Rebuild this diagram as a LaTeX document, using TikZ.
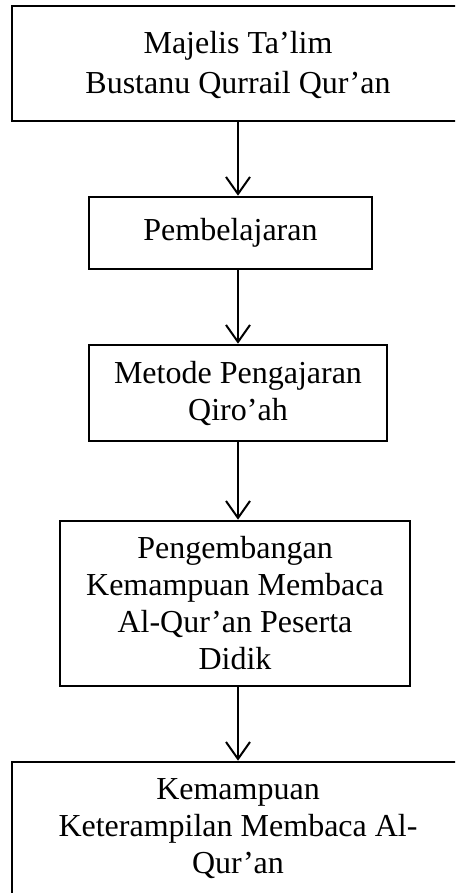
\documentclass[tikz,border=0pt]{standalone}
\usepackage{fontspec}
\setmainfont{Liberation Serif}
\usetikzlibrary{arrows.meta}
\begin{document}
\begin{tikzpicture}[x=1pt,y=-1pt,
  box/.style={draw, line width=2.6pt, rectangle, align=center, inner sep=0pt,
    font=\fontsize{32}{37}\selectfont},
  conn/.style={line width=2pt, -{Straight Barb[length=17pt,width=24pt,line width=2pt]}}]
\useasboundingbox (0,0) rectangle (455,893);
\clip (0,0) rectangle (455,893);
\node[box, minimum width=452pt, minimum height=115pt] (b1) at (238,63.5)
  {\rule{0pt}{26pt}Majelis Ta’lim\\[3pt]Bustanu Qurrail Qur’an};
\node[box, minimum width=283pt, minimum height=72pt] (b2) at (230.5,233)
  {Pembelajaran};
\node[box, minimum width=298pt, minimum height=96pt] (b3) at (238,393)
  {Metode Pengajaran\\Qiro’ah};
\node[box, minimum width=350pt, minimum height=165pt] (b4) at (235,603.5)
  {Pengembangan\\Kemampuan Membaca\\Al-Qur’an Peserta\\Didik};
\node[box, minimum width=452pt, minimum height=134pt] (b5) at (238,829)
  {Kemampuan\\Keterampilan Membaca Al-\\Qur’an};
\coordinate (ax) at (238,0);
\draw[conn] (b1.south -| ax) -- (b2.north -| ax);
\draw[conn] (b2.south -| ax) -- (b3.north -| ax);
\draw[conn] (b3.south -| ax) -- (b4.north -| ax);
\draw[conn] (b4.south -| ax) -- (b5.north -| ax);
\end{tikzpicture}
\end{document}
